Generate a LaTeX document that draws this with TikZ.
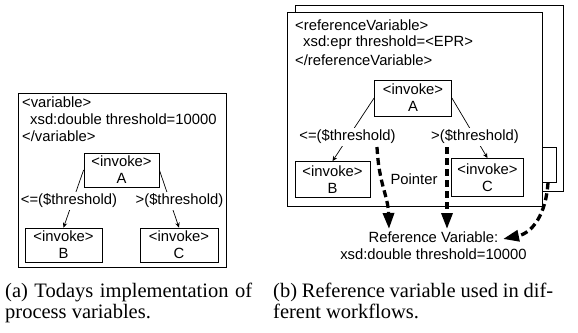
\documentclass[tikz,border=0pt]{standalone}
\usepackage{fontspec}
\setmainfont{Liberation Serif}
\newfontfamily\diagfont{Liberation Sans}
\usetikzlibrary{arrows.meta}
\begin{document}
\begin{tikzpicture}[x=1pt,y=-1pt,
  every node/.style={font=\diagfont\fontsize{14.8}{17}\selectfont, inner sep=0pt},
  box/.style={draw, line width=0.8pt},
  invoke/.style={draw, line width=0.8pt, fill=white, align=center, minimum height=34pt},
  lbl/.style={inner xsep=0.5pt, inner ysep=2pt, fill=white},
  thinline/.style={line width=0.7pt},
  arr/.style={thinline, -{Stealth[length=5pt,width=4.5pt]}},
  ptr/.style={line width=3.3pt, dash pattern=on 7pt off 4pt, -{Triangle[length=16pt,width=11pt]}},
  captext/.style={font=\fontsize{20.5}{22}\selectfont, anchor=base west}
]
\useasboundingbox (0,0) rectangle (578,332);

% ---------- (a) ----------
\node[anchor=west] (lv1) at (22,102) {<variable>};
\node[anchor=west] (lv2) at (30,119) {xsd:double threshold=10000};
\node[anchor=west] (lv3) at (22,136) {</variable>};
\node[invoke, minimum width=75pt] (lA) at (121.5,170) {<invoke>\\A};
\node[invoke, minimum width=77pt] (lB) at (63.5,245) {<invoke>\\B};
\node[invoke, minimum width=78pt] (lC) at (179,245) {<invoke>\\C};
\draw[arr] (lA.west) -- (lB.north);
\draw[arr] (lA.east) -- (lC.north);
\node[lbl] (lL) at (69,201) {<=(\$threshold)};
\node[lbl] (lR) at (179.5,201) {>(\$threshold)};
\node[box, anchor=north west, minimum width=208pt, minimum height=174pt] (lpanel) at (18,93) {};

% ---------- (b) ----------
\node[box, fill=white, anchor=north west, minimum width=268pt, minimum height=186pt] (back) at (295,5) {};
\node[invoke, minimum width=40pt, minimum height=35pt] (bC) at (536,164.5) {};
\node[box, fill=white, anchor=north west, minimum width=255pt, minimum height=194pt] (front) at (287,12) {};
\node[anchor=west] (rv1) at (295,25) {<referenceVariable>};
\node[anchor=west] (rv2) at (303,43) {xsd:epr threshold=<EPR>};
\node[anchor=west] (rv3) at (295,60) {</referenceVariable>};
\node[invoke, minimum width=77pt, minimum height=36pt] (rA) at (413,98) {<invoke>\\A};
\node[invoke, minimum width=75pt, minimum height=36pt] (rB) at (332.5,179.5) {<invoke>\\B};
\node[invoke, minimum width=72pt, minimum height=38pt] (rC) at (487.5,177.5) {<invoke>\\C};
\draw[arr] (rA.west) -- (rB.north);
\draw[arr] (rA.east) -- (rC.north);
\node[lbl] (rL) at (347.5,137) {<=(\$threshold)};
\node[lbl] (rR) at (475,137) {>(\$threshold)};
\node (ptrtext) at (414,179) {Pointer};

\node[align=center] (ref) at (433.5,246) {Reference Variable:\\xsd:double threshold=10000};
\coordinate (p1s) at (377,147);
\coordinate (p1e) at (389,229);
\coordinate (p2s) at (447,147);
\coordinate (p2e) at (447,229);
\coordinate (p3e) at (503,239);
\draw[ptr] (p1s) .. controls (379,185) and (388,195) .. (p1e);
\draw[ptr] (p2s) -- (p2e);
\draw[ptr] ([xshift=12pt]bC.south) .. controls (546,215) and (532,233) .. (p3e);

% ---------- captions ----------
\node[captext] (capa1) at (5,297) {\makebox[247pt][s]{(a) Todays implementation of}};
\node[captext] (capa2) at (5,318) {process variables.};
\node[captext] (capb1) at (273,297) {\makebox[280pt][s]{(b) Reference variable used in dif-}};
\node[captext] (capb2) at (273,318) {ferent workflows.};
\end{tikzpicture}
\end{document}
